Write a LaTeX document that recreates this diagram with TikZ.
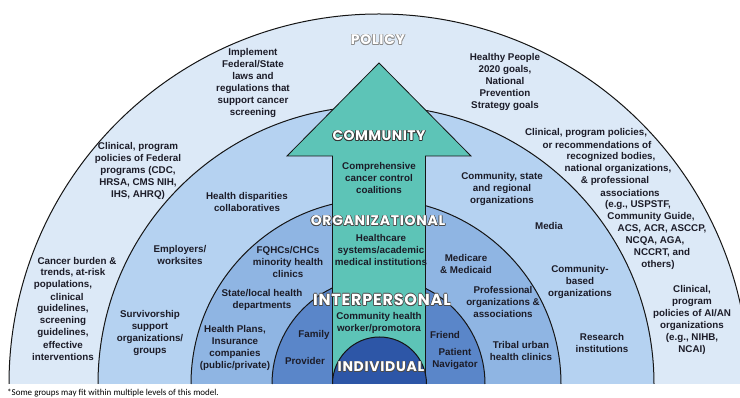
\documentclass[tikz,border=0pt]{standalone}
\usepackage{fontspec}
\setmainfont{Liberation Sans}
\newfontfamily\lvfont{Poppins}
\newfontfamily\notefont{Carlito}
\definecolor{cPol}{HTML}{DCE9F7}
\definecolor{cCom}{HTML}{B5D2F1}
\definecolor{cOrg}{HTML}{8FB5E3}
\definecolor{cInt}{HTML}{5A86C9}
\definecolor{cInd}{HTML}{2D56A7}
\definecolor{cArr}{HTML}{5DC4B7}
\definecolor{ink}{HTML}{1C1C28}
\definecolor{edge}{HTML}{151515}
\colorlet{olc}{black!80}
\newcommand\olcopy[3]{\rlap{\kern#1\raisebox{#2}{\textcolor{olc}{#3}}}}
\newcommand\otext[2]{{\colorlet{olc}{#1}%
\olcopy{.65pt}{0pt}{#2}\olcopy{-.65pt}{0pt}{#2}\olcopy{0pt}{.65pt}{#2}\olcopy{0pt}{-.65pt}{#2}%
\olcopy{.46pt}{.46pt}{#2}\olcopy{-.46pt}{.46pt}{#2}\olcopy{.46pt}{-.46pt}{#2}\olcopy{-.46pt}{-.46pt}{#2}%
\textcolor{white}{#2}}}
\begin{document}
\begin{tikzpicture}[x=1pt,y=1pt,
  txt/.style={font=\fontsize{9.8}{12}\selectfont\bfseries, text=ink, align=center, inner sep=0pt},
  lvl/.style={inner sep=0pt},
  ring/.style={draw=edge, line width=1pt}]
\clip (0,0) rectangle (740,398);
\fill[white] (0,0) rectangle (740,398);
% rings
\fill[cPol] (9,14) arc[start angle=180,end angle=0,radius=370] -- cycle;
\draw[ring] (9,14) arc[start angle=180,end angle=0,radius=370];
\fill[cCom] (98,14) arc[start angle=180,end angle=0,radius=278] -- cycle;
\draw[ring] (98,14) arc[start angle=180,end angle=0,radius=278];
\fill[cOrg] (191,14) arc[start angle=180,end angle=0,radius=185] -- cycle;
\draw[ring] (191,14) arc[start angle=180,end angle=0,radius=185];
\fill[cInt] (272,14) arc[start angle=180,end angle=0,radius=106.5] -- cycle;
\draw[ring] (272,14) arc[start angle=180,end angle=0,radius=106.5];
% arrow
\coordinate (tip) at (379,335);
\coordinate (hl) at (287,242);
\coordinate (hr) at (471,242);
\coordinate (sl) at (332.5,242);
\coordinate (sr) at (425.5,242);
\coordinate (bl) at (332.5,14);
\coordinate (br) at (425.5,14);
\path[fill=cArr, draw=edge, line width=0.8pt] (bl) -- (sl) -- (hl) -- (tip) -- (hr) -- (sr) -- (br);
% individual
\fill[cInd] (332.5,14) arc[start angle=180,end angle=0,radius=47] -- cycle;
\draw[ring] (332.5,14) arc[start angle=180,end angle=0,radius=47];
% level labels
\node[lvl, font=\lvfont\bfseries\fontsize{14}{14}\selectfont\addfontfeature{LetterSpace=5}] (policy) at (378,358) {\otext{black!45}{POLICY}};
\node[lvl, font=\lvfont\bfseries\fontsize{14}{14}\selectfont\addfontfeature{LetterSpace=3}] (community) at (379,262) {\otext{black!80}{COMMUNITY}};
\node[lvl, font=\lvfont\bfseries\fontsize{14}{14}\selectfont\addfontfeature{LetterSpace=5}] (organizational) at (378,177) {\otext{black!70}{ORGANIZATIONAL}};
\node[lvl, font=\lvfont\bfseries\fontsize{16}{16}\selectfont\addfontfeature{LetterSpace=5}] (interpersonal) at (382,98) {\otext{black!70}{INTERPERSONAL}};
\node[lvl, font=\lvfont\bfseries\fontsize{14}{14}\selectfont\addfontfeature{LetterSpace=5}] (individual) at (381,31) {\otext{black!70}{INDIVIDUAL}};
% policy ring texts
\node[txt] (implement) at (253,315) {Implement\\Federal/State\\laws and\\regulations that\\support cancer\\screening};
\node[txt] (healthy) at (505,316) {Healthy People\\2020 goals,\\National\\Prevention\\Strategy goals};
\node[txt] (fedprog) at (138,227.5) {Clinical, program\\policies of Federal\\programs (CDC,\\HRSA, CMS NIH,\\IHS, AHRQ)};
\foreach \i/\x/\y/\t in {1/77/137/{Cancer burden \&},2/73/125/{trends, at-risk},3/63/113/{populations,},4/67/101/{clinical},5/63/89/{guidelines,},6/63/77/{screening},7/63/65/{guidelines,},8/63/53/{effective},9/63/41/{interventions}}
  \node[txt] (cb\i) at (\x,\y) {\t};
\foreach \i/\x/\y/\t in {1/586/265/{Clinical, program policies,},2/597/253/{or recommendations of},3/611/241/{recognized bodies,},4/618/229/{national organizations,},5/615/217/{\& professional},6/630/205/{associations},7/638/193/{(e.g., USPSTF,},8/651/181/{Community Guide,},9/662/169/{ACS, ACR, ASCCP,},10/655/157/{NCQA, AGA,},11/662/145/{NCCRT, and},12/658/133/{others)}}
  \node[txt] (rb\i) at (\x,\y) {\t};
\node[txt] (aian) at (692,78) {Clinical,\\program\\policies of AI/AN\\organizations\\(e.g., NIHB,\\NCAI)};
% community ring texts
\node[txt] (disp) at (247,196) {Health disparities\\collaboratives};
\node[txt] (employ) at (180,143) {Employers/\\worksites};
\node[txt] (surv) at (150,65) {Survivorship\\support\\organizations/\\groups};
\node[txt] (commstate) at (502,209) {Community, state\\and regional\\organizations};
\node[txt] (media) at (549,172) {Media};
\node[txt] (cbo) at (580,116) {Community-\\based\\organizations};
\node[txt] (research) at (602,55) {Research\\institutions};
% organizational ring texts
\node[txt] (fqhc) at (288,136) {FQHCs/CHCs\\minority health\\clinics};
\node[txt] (state) at (262,98) {State/local health\\departments};
\node[txt] (plans) at (235,50) {Health Plans,\\Insurance\\companies\\(public/private)};
\node[txt] (medicare) at (466,134) {Medicare\\\& Medicaid};
\node[txt] (prof) at (503,96) {Professional\\organizations \&\\associations};
\node[txt] (tribal) at (521,47) {Tribal urban\\health clinics};
% interpersonal texts
\node[txt] (family) at (314,63) {Family};
\node[txt] (provider) at (305,37) {Provider};
\node[txt] (friend) at (445,63) {Friend};
\node[txt] (navigator) at (455,39) {Patient\\Navigator};
% arrow texts
\node[txt] (ccc) at (379,220) {Comprehensive\\cancer control\\coalitions};
\node[txt] (hcs) at (381,148) {Healthcare\\systems/academic\\medical institutions};
\node[txt] (chw) at (379,75.5) {Community health\\worker/promotora};
% footnote
\node[anchor=base west, inner sep=0pt, font=\notefont\fontsize{9}{10}\selectfont, text=black] (note) at (7,2.6) {*Some groups may fit within multiple levels of this model.};
\end{tikzpicture}
\end{document}
